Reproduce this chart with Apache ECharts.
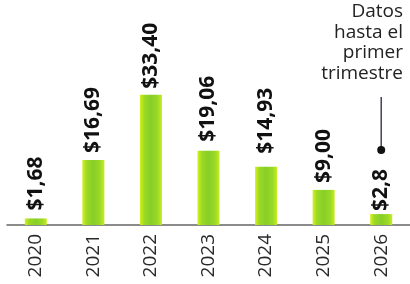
<!DOCTYPE html>
<html>
<head>
<meta charset="utf-8">
<script src="https://cdn.jsdelivr.net/npm/echarts@6/dist/echarts.min.js"></script>
<style>
html,body{margin:0;padding:0;background:#fff;}
#c{width:410px;height:284px;}
</style>
</head>
<body>
<div id="c"></div>
<script>
const categories = ['2020','2021','2022','2023','2024','2025','2026'];
const values = [1.68, 16.69, 33.40, 19.06, 14.93, 9.00, 2.8];
const valueLabels = ['$1,68','$16,69','$33,40','$19,06','$14,93','$9,00','$2,8'];
const noteLines = ['Datos','hasta el','primer','trimestre'];

const labelGaps = [8,7,6,9,13,7,3];

const chart = echarts.init(document.getElementById('c'), null, {renderer:'canvas'});
const barColor = new echarts.graphic.LinearGradient(0,0,1,0,[
  {offset:0,color:'#d6f01a'},
  {offset:0.2,color:'#9ada26'},
  {offset:0.5,color:'#88ce28'},
  {offset:0.8,color:'#9ada26'},
  {offset:1,color:'#c8ec20'}
]);
chart.setOption({
  animation:false,
  backgroundColor:'#ffffff',
  grid:{left:7,right:0,top:69,bottom:59},
  xAxis:{
    type:'category',
    data:categories,
    axisLine:{lineStyle:{color:'#666',width:1.5}},
    axisTick:{inside:true,length:4,lineStyle:{color:'#666',width:1.2}},
    axisLabel:{rotate:90,margin:9,fontFamily:'Open Sans',fontSize:19,color:'#2a2a2a'}
  },
  yAxis:{type:'value',min:0,max:40,show:false,splitLine:{show:false}},
  series:[{
    type:'bar',
    data:values.map((v,i)=>({value:v,label:{distance:labelGaps[i]}})),
    barWidth:22,
    itemStyle:{color:barColor},
    label:{
      show:true,position:'top',rotate:90,align:'left',verticalAlign:'middle',
      fontFamily:'Open Sans',fontWeight:'bold',fontSize:21,color:'#111',
      formatter:p=>valueLabels[p.dataIndex]
    }
  }]
});

const last = categories.length-1;
const pt = chart.convertToPixel({xAxisIndex:0,yAxisIndex:0},[last, values[last]]);
const dotY = pt[1]-64;
const noteGraphics = noteLines.map((t,i)=>({
  type:'text',x:403,y:2+i*20.7,
  style:{text:t,font:'19px "Open Sans"',fill:'#222',align:'right',verticalAlign:'top'}
}));
chart.setOption({
  graphic:noteGraphics.concat([
    {type:'line',shape:{x1:pt[0],y1:97,x2:pt[0],y2:dotY},style:{stroke:'#4a3d55',lineWidth:1.5}},
    {type:'circle',shape:{cx:pt[0],cy:dotY,r:4},style:{fill:'#111'}}
  ])
});
</script>
</body>
</html>
